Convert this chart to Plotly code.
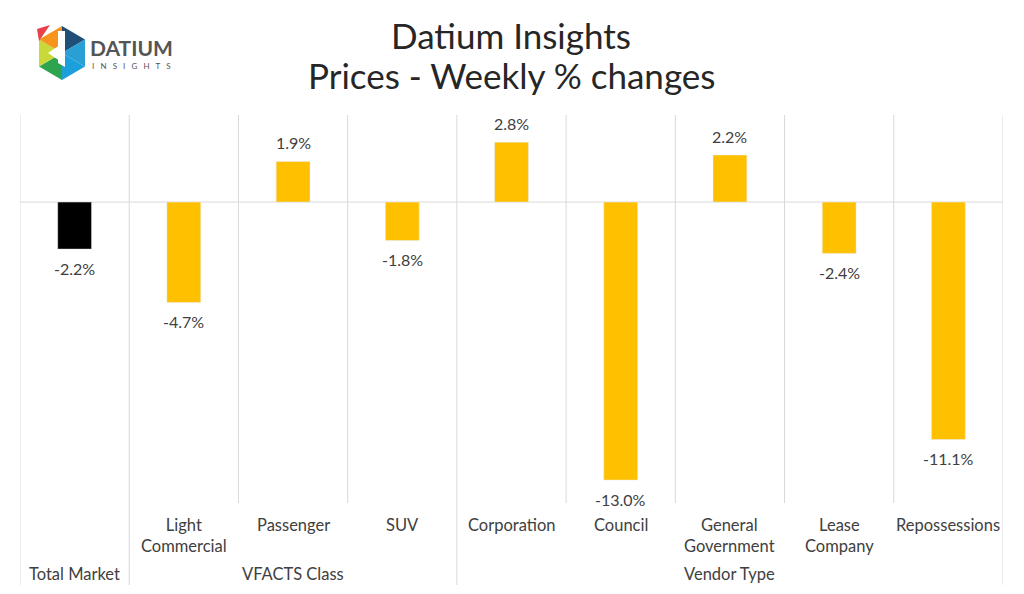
import plotly.graph_objects as go

# data
categories = ["Total Market", "Light<br>Commercial", "Passenger", "SUV", "Corporation",
              "Council", "General<br>Government", "Lease<br>Company", "Repossessions"]
groups = ["", "VFACTS Class", "VFACTS Class", "VFACTS Class", "Vendor Type",
          "Vendor Type", "Vendor Type", "Vendor Type", "Vendor Type"]
values = [-2.2, -4.7, 1.9, -1.8, 2.8, -13.0, 2.2, -2.4, -11.1]
bar_colors = ["#000000"] + ["#FFC000"] * 8

W, H = 1024, 594
L, R, T, B = 20, 21, 115, 91
PW, PH = W - L - R, H - T - B


def px_x(x):
    return (x - L) / PW


def px_y(y):
    return (H - B - y) / PH


FONT = "Lato, Noto Sans, sans-serif"
TXT = "#404040"
GRID = "#d9d9d9"

xs = list(range(len(values)))

fig = go.Figure(go.Bar(
    x=xs, y=values, marker_color=bar_colors, width=0.31,
    hoverinfo="skip",
))

# data labels
for i, v in enumerate(values):
    fig.add_annotation(
        x=i, y=v, text=f"{v:.1f}%", showarrow=False,
        yshift=19 if v > 0 else -19,
        font=dict(size=16, color=TXT, family=FONT),
    )

# category labels
for i, c in enumerate(categories):
    if i == 0:
        continue
    fig.add_annotation(
        x=i, xref="x", y=px_y(513), yref="paper", yanchor="top",
        text=c, showarrow=False, align="center",
        font=dict(size=16.5, color=TXT, family=FONT),
    )

# group labels and boundaries
bounds = []
start = 0
for i in range(1, len(groups) + 1):
    if i == len(groups) or groups[i] != groups[start]:
        bounds.append((start, i - 1, groups[start] or categories[start]))
        start = i
for a, b, name in bounds:
    fig.add_annotation(
        x=(a + b) / 2, xref="x", y=px_y(574), yref="paper", yanchor="middle",
        text=name, showarrow=False,
        font=dict(size=16.5, color=TXT, family=FONT),
    )

group_edges = {a - 0.5 for a, b, _ in bounds} | {bounds[-1][1] + 0.5}
for k in range(len(values) + 1):
    xe = k - 0.5
    y0 = px_y(585) if xe in group_edges else 0
    fig.add_shape(type="line", x0=xe, x1=xe, xref="x", y0=y0, y1=1, yref="paper",
                  line=dict(color=GRID, width=1), layer="below")

# zero line
fig.add_shape(type="line", x0=0, x1=1, xref="paper", y0=0, y1=0, yref="y",
              line=dict(color=GRID, width=1), layer="below")

# title
for txt, yy in [("Datium Insights", 35), ("Prices - Weekly % changes", 75)]:
    fig.add_annotation(x=px_x(511), y=px_y(yy), xref="paper", yref="paper",
                       xanchor="center", yanchor="middle", text=txt, showarrow=False,
                       font=dict(size=35, color="#262626", family=FONT))

# logo
cx, cy, rx, ry = 62, 53, 23, 27
pts = [(cx, cy - ry), (cx + rx, cy - ry / 2), (cx + rx, cy + ry / 2),
       (cx, cy + ry), (cx - rx, cy + ry / 2), (cx - rx, cy - ry / 2)]
logo_cols = ["#1f4e79", "#2a9fd6", "#1ca0dc", "#2ea44f", "#c9d93a", "#f7941d"]
for k in range(6):
    p1, p2 = pts[k], pts[(k + 1) % 6]
    path = (f"M {px_x(cx)} {px_y(cy)} L {px_x(p1[0])} {px_y(p1[1])} "
            f"L {px_x(p2[0])} {px_y(p2[1])} Z")
    fig.add_shape(type="path", path=path, xref="paper", yref="paper",
                  fillcolor=logo_cols[k], line=dict(width=0))
fig.add_shape(type="path", xref="paper", yref="paper",
              path=(f"M {px_x(cx - 14)} {px_y(cy)} L {px_x(cx - 2)} {px_y(cy - 8)} "
                    f"L {px_x(cx - 2)} {px_y(cy + 8)} Z"),
              fillcolor="white", line=dict(width=0))
fig.add_shape(type="path", xref="paper", yref="paper",
              path=(f"M {px_x(cx - 4)} {px_y(cy - 22)} L {px_x(cx + 3)} {px_y(cy - 22)} "
                    f"L {px_x(cx + 3)} {px_y(cy + 14)} L {px_x(cx - 4)} {px_y(cy + 10)} Z"),
              fillcolor="white", line=dict(width=0))
fig.add_shape(type="path", xref="paper", yref="paper",
              path=(f"M {px_x(cx - 25)} {px_y(cy - 24)} L {px_x(cx - 12)} {px_y(cy - 28)} "
                    f"L {px_x(cx - 23)} {px_y(cy - 12)} Z"),
              fillcolor="#e8414a", line=dict(width=0))
fig.add_annotation(x=px_x(88), y=px_y(48), xref="paper", yref="paper",
                   xanchor="left", yanchor="middle", text="<b>DATIUM</b>", showarrow=False,
                   font=dict(size=21, color="#555555", family=FONT))
fig.add_annotation(x=px_x(90), y=px_y(66), xref="paper", yref="paper",
                   xanchor="left", yanchor="middle", text="I   N   S   I   G   H   T   S",
                   showarrow=False, font=dict(size=8, color="#555555", family=FONT))

fig.update_layout(
    width=W, height=H,
    margin=dict(l=L, r=R, t=T, b=B),
    paper_bgcolor="white", plot_bgcolor="white",
    showlegend=False,
    xaxis=dict(range=[-0.5, len(values) - 0.5], showticklabels=False,
               showgrid=False, zeroline=False, fixedrange=True),
    yaxis=dict(range=[-14.07, 4.07], showticklabels=False, showgrid=False,
               zeroline=False, fixedrange=True),
)
fig.update_traces(cliponaxis=False)

fig.write_html("out.html", config={"displayModeBar": False},
               post_script="document.body.style.margin='0';")
